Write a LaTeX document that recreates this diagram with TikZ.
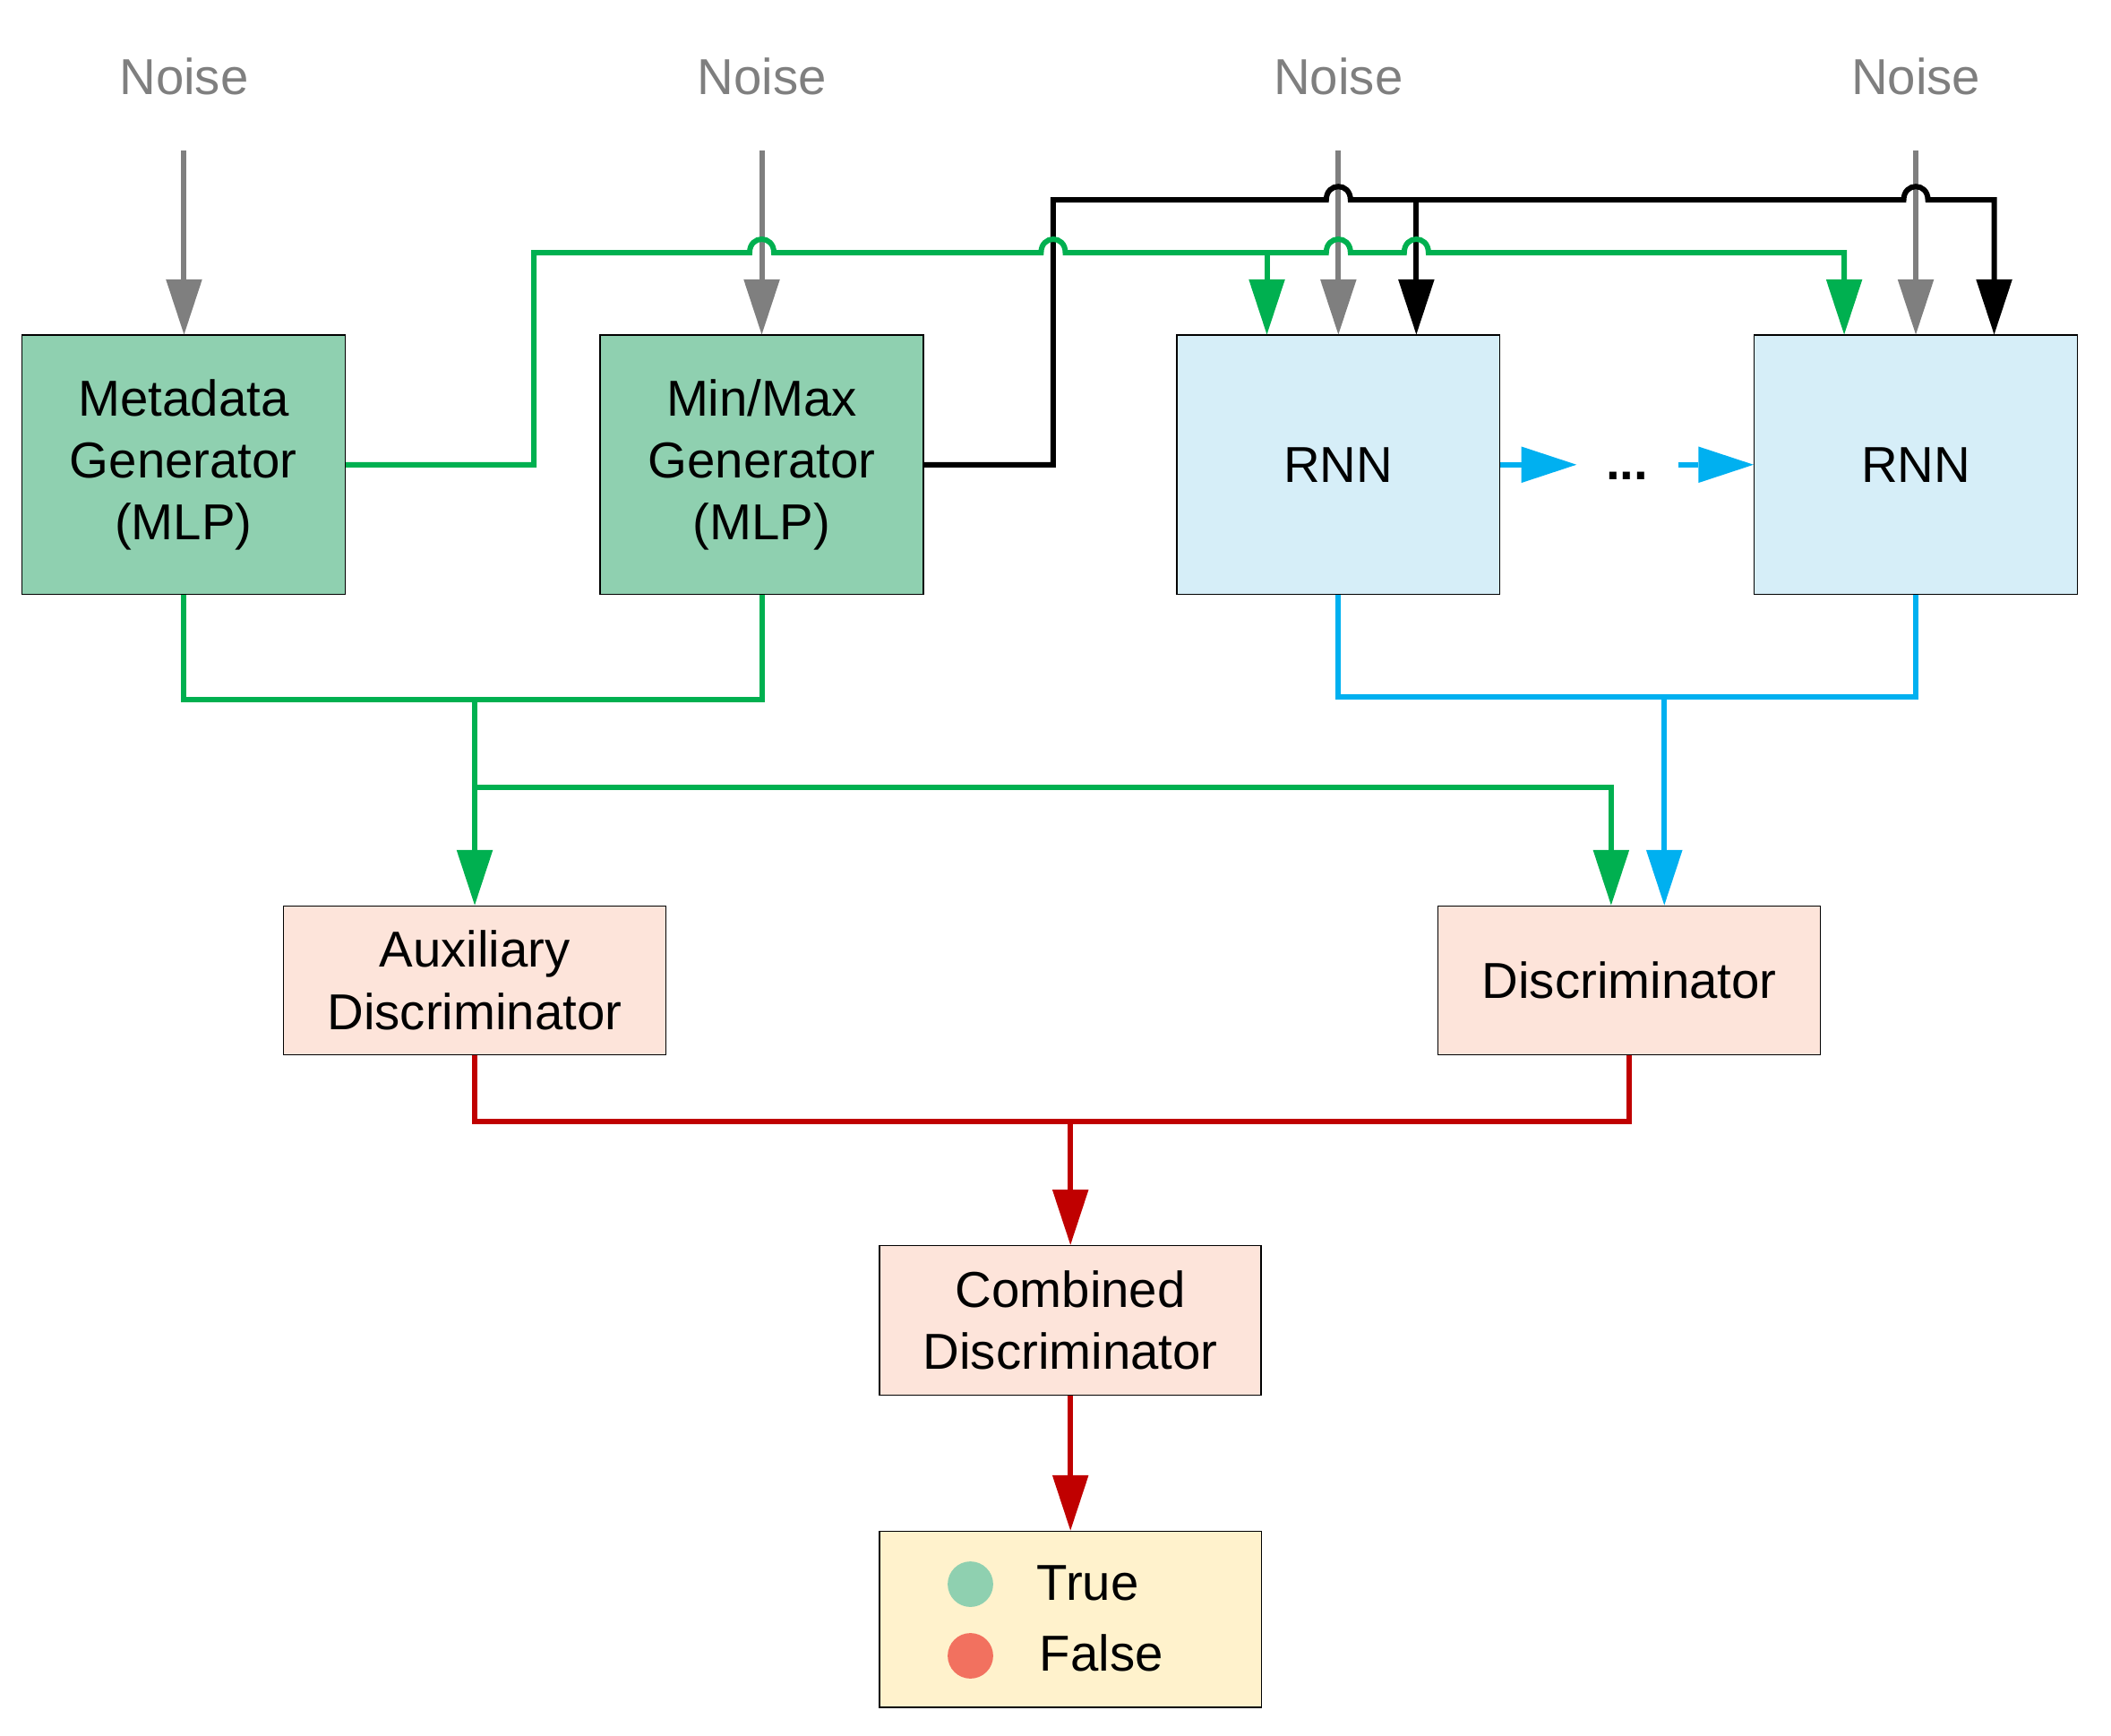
\documentclass[tikz,border=0pt]{standalone}
\usepackage{fontspec}
\setmainfont{Liberation Sans}
\usetikzlibrary{arrows.meta}
\definecolor{cgreen}{HTML}{00B050}
\definecolor{cblue}{HTML}{00B0F0}
\definecolor{cred}{HTML}{C00000}
\definecolor{cgray}{HTML}{7F7F7F}
\definecolor{fmint}{HTML}{8FD0B0}
\definecolor{fsky}{HTML}{D6EEF8}
\definecolor{fpeach}{HTML}{FDE4DA}
\definecolor{fcream}{HTML}{FFF2CC}
\definecolor{fsalmon}{HTML}{F2715F}
\begin{document}
\begin{tikzpicture}[x=1pt,y=-1pt,
  every node/.style={font=\fontsize{37.5}{46}\selectfont},
  tip/.style={-{Triangle[length=41pt,width=27pt,line width=0pt]}},
  gbox/.style={draw=black, line width=1pt, fill=fmint, minimum width=240pt, minimum height=192.3pt, inner sep=0pt, align=center},
  rbox/.style={gbox, fill=fsky},
  dbox/.style={draw=black, line width=1pt, fill=fpeach, minimum width=284pt, minimum height=110.5pt, inner sep=0pt, align=center},
  obox/.style={draw=black, line width=1pt, fill=fcream, minimum width=283.6pt, minimum height=131pt, inner sep=0pt},
  noiselbl/.style={text=cgray, anchor=base, inner sep=0pt},
  dot/.style={circle, inner sep=0pt, minimum size=33.8pt},
  lbl/.style={anchor=base west, inner sep=0pt},
  gline/.style={draw=cgreen, line width=4pt},
  kline/.style={draw=black, line width=4pt},
  bline/.style={draw=cblue, line width=4pt},
  rline/.style={draw=cred, line width=4pt},
  nline/.style={draw=cgray, line width=4pt},
  hop/.style 2 args={insert path={-- ({#1-9},#2) .. controls ({#1-9},{#2-13.3}) and ({#1+9},{#2-13.3}) .. ({#1+9},#2)}}
]
\useasboundingbox (0,0) rectangle (1568,1288.6);

% noise labels
\node[noiselbl] (n1) at (136.7,70.3) {Noise};
\node[noiselbl] (n2) at (565.8,70.3) {Noise};
\node[noiselbl] (n3) at (994.1,70.3) {Noise};
\node[noiselbl] (n4) at (1423,70.3) {Noise};
\coordinate (s1) at (136.7,112);
\coordinate (s2) at (565.8,112);
\coordinate (s3) at (994.1,112);
\coordinate (s4) at (1423,112);

% boxes
\node[gbox] (mdg) at (136.3,345.1) {Metadata\\Generator\\(MLP)};
\node[gbox] (mmg) at (565.8,345.1) {Min/Max\\Generator\\(MLP)};
\node[rbox] (rnn1) at (994.1,345.1) {RNN};
\node[rbox] (rnn2) at (1423,345.1) {RNN};
\node[dbox] (aux) at (352.6,728) {Auxiliary\\Discriminator};
\node[dbox] (dis) at (1210.2,728) {Discriminator};
\node[dbox, minimum width=283.4pt, minimum height=111pt] (comb) at (795.1,980.5) {Combined\\Discriminator};
\node[obox] (out) at (795.1,1202.6) {};
\node[dot, fill=fmint] (ct) at (720.8,1176.5) {};
\node[dot, fill=fsalmon] (cf) at (720.8,1229.7) {};
\node[lbl] (tt) at (770,1188.6) {True};
\node[lbl] (tf) at (772,1241.3) {False};
\node[anchor=base, inner sep=0pt] (dots) at (1208.5,356.4) {\textbf{...}};

% noise arrows
\draw[nline, tip] (s1) -- (s1 |- mdg.north);
\draw[nline, tip] (s2) -- (s2 |- mmg.north);
\draw[nline, tip] (s3) -- (s3 |- rnn1.north);
\draw[nline, tip] (s4) -- (s4 |- rnn2.north);

% black (min/max) connector
\draw[kline, tip] (mmg.east) -| (782.3,148.5) [hop={994.1}{148.5}] [hop={1423}{148.5}] -- (1481.2,148.5) -- ([xshift=58.2pt]rnn2.north);
\coordinate (kb) at (1052,148.5);
\draw[kline, tip] (kb) -- ([xshift=57.9pt]rnn1.north);

% green (metadata) connector
\draw[gline, tip] (mdg.east) -| (396.5,187.6) [hop={565.8}{187.6}] [hop={782.3}{187.6}] [hop={994.1}{187.6}] [hop={1052}{187.6}] -- (1369.8,187.6) -- ([xshift=-53.2pt]rnn2.north);
\coordinate (gb) at (941,187.6);
\draw[gline, tip] (gb) -- ([xshift=-53.1pt]rnn1.north);

% RNN chain
\coordinate (a1) at (1171,345.1);
\coordinate (a2) at (1246.4,345.1);
\draw[bline, tip] (rnn1.east) -- (a1);
\draw[bline, tip] (a2) -- (rnn2.west);

% generators to discriminators
\draw[gline] (mdg.south) -- ++(0,78) -| (mmg.south);
\coordinate (jg) at (352.6,519.2);
\draw[gline, tip] (jg) -- (aux.north);
\coordinate (jg2) at (352.6,584.8);
\draw[gline, tip] (jg2) -| ([xshift=-13.5pt]dis.north);

% RNNs to discriminator
\draw[bline] (rnn1.south) -- ++(0,76) -| (rnn2.south);
\coordinate (jb) at (1236.2,517.2);
\draw[bline, tip] (jb) -- ([xshift=26pt]dis.north);

% discriminators to combined
\draw[rline] (aux.south) -- ++(0,49) -| (dis.south);
\coordinate (jr) at (795.1,832.1);
\draw[rline, tip] (jr) -- (comb.north);
\draw[rline, tip] (comb.south) -- (out.north);
\end{tikzpicture}
\end{document}
